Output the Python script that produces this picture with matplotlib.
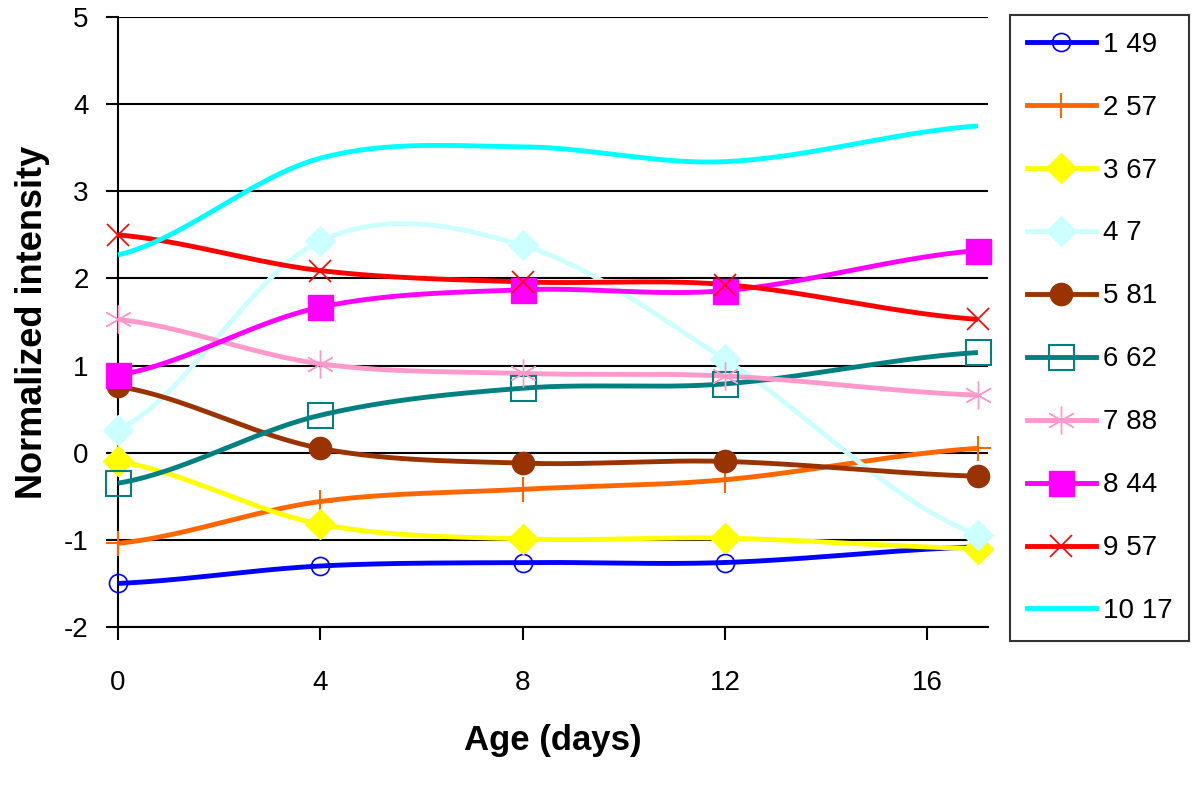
import numpy as np
import matplotlib
matplotlib.use("Agg")
import matplotlib.pyplot as plt

plt.rcParams['font.family'] = ['Liberation Sans', 'DejaVu Sans']
plt.rcParams['axes.unicode_minus'] = False

days = [0, 4, 8, 12, 17]
labels = ["1 49", "2 57", "3 67", "4 7", "5 81", "6 62", "7 88", "8 44", "9 57", "10 17"]

s1 = [-1.50, -1.30, -1.26, -1.26, -1.08]
s2 = [-1.04, -0.56, -0.42, -0.31, 0.05]
s3 = [-0.10, -0.82, -0.99, -0.98, -1.10]
s4 = [0.26, 2.43, 2.38, 1.07, -0.94]
s5 = [0.76, 0.05, -0.12, -0.10, -0.27]
s6 = [-0.35, 0.43, 0.74, 0.79, 1.15]
s7 = [1.53, 1.02, 0.91, 0.88, 0.66]
s8 = [0.89, 1.67, 1.87, 1.86, 2.32]
s9 = [2.50, 2.09, 1.96, 1.93, 1.53]
s10 = [2.27, 3.38, 3.51, 3.34, 3.75]
series = [s1, s2, s3, s4, s5, s6, s7, s8, s9, s10]

colors = ["#0000FF", "#FF6600", "#FFFF00", "#CCFFFF", "#993300",
          "#008080", "#FF99CC", "#FF00FF", "#FF0000", "#00FFFF"]
# marker, size, filled, edge width
styles = [("o", 13, False, 1.2), ("+", 18, True, 1.5), ("D", 15, True, 1.0),
          ("D", 15, True, 1.0), ("o", 16, True, 1.0), ("s", 18, False, 1.5),
          ((6, 2, 0), 20, True, 1.0), ("s", 18, True, 1.0), ("x", 16, True, 1.2),
          (None, 0, True, 1.0)]


def smooth(x, y, n=60):
    # hermite curve like the smoothed lines of a spreadsheet chart
    x = np.asarray(x, float)
    y = np.asarray(y, float)
    m = np.zeros_like(y)
    m[1:-1] = (y[2:] - y[:-2]) / (x[2:] - x[:-2])
    m[0] = 0.5 * (y[1] - y[0]) / (x[1] - x[0])
    m[-1] = 0.5 * (y[-1] - y[-2]) / (x[-1] - x[-2])
    xs, ys = [], []
    for i in range(len(x) - 1):
        h = x[i + 1] - x[i]
        t = np.linspace(0, 1, n)
        h00 = 2*t**3 - 3*t**2 + 1
        h10 = t**3 - 2*t**2 + t
        h01 = -2*t**3 + 3*t**2
        h11 = t**3 - t**2
        xs.append(x[i] + t*h)
        ys.append(h00*y[i] + h10*h*m[i] + h01*y[i+1] + h11*h*m[i+1])
    return np.concatenate(xs), np.concatenate(ys)


fig = plt.figure(figsize=(12, 7.94), dpi=100)
ax = fig.add_axes([118/1200, 1-627/794, (988-118)/1200, (627-17)/794])

handles = []
for vals, lab, c, st in zip(series, labels, colors, styles):
    mk, ms, filled, mew = st
    xs, ys = smooth(days, vals)
    ax.plot(xs, ys, color=c, lw=3.5, solid_capstyle='butt', zorder=3, clip_on=False)
    if mk is not None:
        ax.plot(days, vals, ls='none', marker=mk, ms=ms, color=c,
                mfc=c if filled else 'none', mec=c, mew=mew, zorder=4, clip_on=False)
    h, = ax.plot([], [], color=c, lw=3.5, marker=mk, ms=ms,
                 mfc=c if filled else 'none', mec=c, mew=mew)
    handles.append(h)

ax.set_xlim(0, 17.2)
ax.set_ylim(-2, 5)
ax.set_xticks([0, 4, 8, 12, 16])
ax.set_yticks(range(-2, 6))
ax.yaxis.grid(True, color='black', lw=1.5)
ax.set_axisbelow(True)
for sp in ['top', 'right']:
    ax.spines[sp].set_visible(False)
for sp in ['left', 'bottom']:
    ax.spines[sp].set_linewidth(1.5)
ax.tick_params(direction='out', length=9, width=1.5, labelsize=20)
ax.tick_params(axis='x', pad=22)
ax.tick_params(axis='y', pad=12)
ax.set_xlabel("Age (days)", fontsize=25, fontweight='bold', labelpad=20)
ax.set_ylabel("Normalized intensity", fontsize=26, fontweight='bold', labelpad=10)

leg = fig.legend(handles, labels, loc='upper left',
                 bbox_to_anchor=(1010/1200, 1-15/794), borderaxespad=0,
                 fontsize=20, frameon=True, fancybox=False, edgecolor='black',
                 handlelength=2.5, handletextpad=0.25, labelspacing=1.33,
                 numpoints=1, borderpad=0.6)
leg.get_frame().set_linewidth(1.5)

fig.savefig("out.png", dpi=100)
